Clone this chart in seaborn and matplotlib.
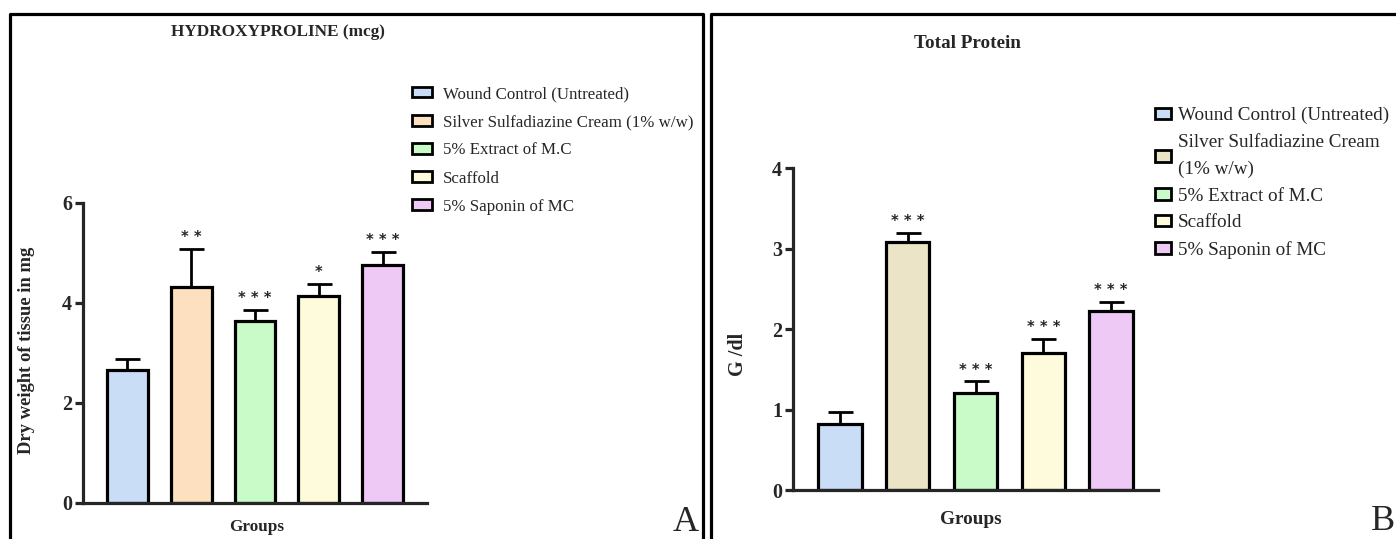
import numpy as np
import pandas as pd
import seaborn as sns
import matplotlib.pyplot as plt
from matplotlib.patches import Patch
from matplotlib.lines import Line2D

# data
groups = ["Wound Control (Untreated)", "Silver Sulfadiazine Cream (1% w/w)",
          "5% Extract of M.C", "Scaffold", "5% Saponin of MC"]
groups_b = ["Wound Control (Untreated)", "Silver Sulfadiazine Cream\n(1% w/w)",
            "5% Extract of M.C", "Scaffold", "5% Saponin of MC"]

hyp_mean = [2.66, 4.32, 3.65, 4.15, 4.76]
hyp_err = [0.23, 0.76, 0.21, 0.23, 0.27]
hyp_stars = ["", "* *", "* * *", "*", "* * *"]

prot_mean = [0.82, 3.08, 1.21, 1.70, 2.22]
prot_err = [0.15, 0.12, 0.14, 0.18, 0.12]
prot_stars = ["", "* * *", "* * *", "* * *", "* * *"]

colors_a = ["#c9ddf6", "#fde0c0", "#c9fbc9", "#fefbdc", "#efc9f6"]
colors_b = ["#c9ddf6", "#ebe4c6", "#c9fbc9", "#fefbdc", "#efc9f6"]

sns.set_style("ticks")
plt.rcParams['font.family'] = ['Liberation Serif', 'DejaVu Serif']

W, H = 1396, 539
fig = plt.figure(figsize=(W / 100, H / 100), dpi=100)


def fx(px):
    return px / W


def fy(py):
    return 1 - py / H


def panel(rect, means, errs, stars, colors, labels, ymax, star_fs):
    ax = fig.add_axes(rect)
    df = pd.DataFrame({"group": labels, "value": means})
    sns.barplot(data=df, x="group", y="value", hue="group", palette=colors,
                width=0.64, edgecolor="black", linewidth=2.3, errorbar=None,
                legend=False, ax=ax, saturation=1)
    x = np.arange(len(means))
    ax.errorbar(x, means, yerr=[np.zeros(len(errs)), errs], fmt="none",
                ecolor="black", elinewidth=2, capsize=9, capthick=2, zorder=1)
    for xi, m, e, s in zip(x, means, errs, stars):
        if s:
            ax.text(xi, m + e + ymax * 0.012, s, ha="center", va="bottom",
                    fontsize=star_fs, fontweight="bold", family="DejaVu Sans")
    ax.set_xlim(-0.69, 4.69)
    ax.set_ylim(0, ymax)
    ax.set_yticks(range(0, ymax + 1, 2 if ymax == 6 else 1))
    ax.set_xticks([])
    ax.set_xlabel("")
    ax.set_ylabel("")
    sns.despine(ax=ax)
    for sp in ["left", "bottom"]:
        ax.spines[sp].set_linewidth(2.3)
    ax.tick_params(axis="y", direction="out", length=6, width=2.3, pad=2,
                   labelsize=14.5)
    for t in ax.get_yticklabels():
        t.set_fontweight("bold")
    return ax


ax_a = panel([fx(83), fy(503), fx(427 - 83), (503 - 203) / H],
             hyp_mean, hyp_err, hyp_stars, colors_a, groups, 6, 10.5)
ax_b = panel([fx(793), fy(490), fx(1158 - 793), (490 - 168.3) / H],
             prot_mean, prot_err, prot_stars, colors_b, groups_b, 4, 10.5)

# titles and axis labels
fig.text(fx(278), fy(32), "HYDROXYPROLINE (mcg)", ha="center", va="center",
         fontsize=12.4, fontweight="bold")
fig.text(fx(967), fy(43), "Total Protein", ha="center", va="center",
         fontsize=13.8, fontweight="bold")
fig.text(fx(27), fy(350), "Dry weight of tissue in mg", ha="center",
         va="center", rotation=90, fontsize=13.4, fontweight="bold")
fig.text(fx(738), fy(354), "G /dl", ha="center", va="center", rotation=90,
         fontsize=14.5, fontweight="bold")
fig.text(fx(257), fy(527), "Groups", ha="center", va="center", fontsize=12.3,
         fontweight="bold")
fig.text(fx(971), fy(519), "Groups", ha="center", va="center", fontsize=13.9,
         fontweight="bold")
fig.text(fx(673), fy(531), "A", ha="left", va="baseline", fontsize=26)
fig.text(fx(1371), fy(538.5), "B", ha="left", va="bottom", fontsize=26)

# legends
handles_a = [Patch(facecolor=c, edgecolor="black", linewidth=2) for c in colors_a]
fig.legend(handles_a, groups, loc="upper left", bbox_to_anchor=(fx(412), fy(86)),
           frameon=False, fontsize=12.2, handlelength=1.2, handleheight=0.6,
           handletextpad=0.6, labelspacing=0.72, borderpad=0, borderaxespad=0)
handles_b = [Patch(facecolor=c, edgecolor="black", linewidth=2) for c in colors_b]
leg_b = fig.legend(handles_b, groups_b, loc="upper left",
                   bbox_to_anchor=(fx(1155), fy(107)),
                   frameon=False, fontsize=13.8, handlelength=0.85,
                   handleheight=0.55, handletextpad=0.35, labelspacing=0.5,
                   borderpad=0, borderaxespad=0)
for t in leg_b.get_texts():
    t.set_linespacing(1.75)

# panel borders
lw = 2.3
fig.add_artist(Line2D([fx(9.5), fx(9.5), fx(703), fx(703)],
                      [fy(545), fy(13.5), fy(13.5), fy(545)], color="black", lw=lw))
fig.add_artist(Line2D([fx(710.5), fx(710.5), fx(1400)],
                      [fy(545), fy(14), fy(14)], color="black", lw=lw))

fig.savefig("out.png", dpi=100)
